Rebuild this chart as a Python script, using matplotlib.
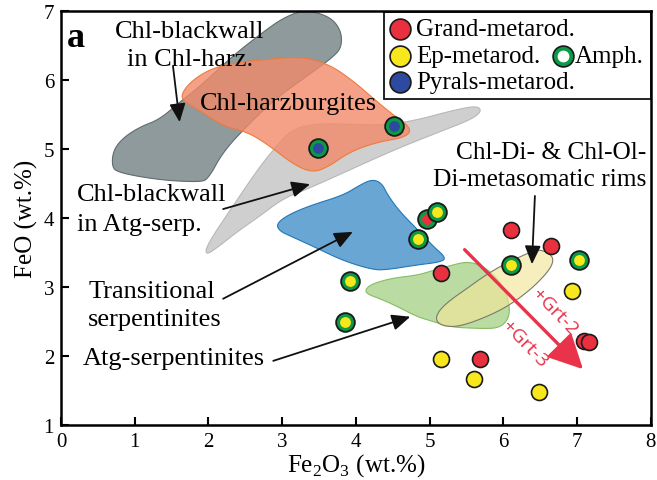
import numpy as np
import matplotlib
matplotlib.use("Agg")
import matplotlib.pyplot as plt
from matplotlib.patches import Polygon, Rectangle, FancyArrowPatch

plt.rcParams['font.family'] = ['Liberation Serif', 'DejaVu Serif']
plt.rcParams['mathtext.fontset'] = 'custom'
plt.rcParams['mathtext.rm'] = 'Liberation Serif'

# ---------------- data ----------------
grand_x = [6.10, 6.65, 5.16, 7.10, 7.17, 5.69]
grand_y = [3.82, 3.59, 3.21, 2.22, 2.21, 1.96]
grand_amph_x = [4.96]
grand_amph_y = [3.99]
ep_x = [6.94, 5.16, 5.61, 6.49]
ep_y = [2.94, 1.96, 1.67, 1.48]
ep_amph_x = [6.11, 7.03, 5.10, 4.85, 3.92, 3.86]
ep_amph_y = [3.32, 3.39, 4.09, 3.69, 3.09, 2.49]
pyr_amph_x = [3.49, 4.52]
pyr_amph_y = [5.02, 5.33]

# field outlines (Fe2O3, FeO)
blackwall_harz_x = [0.69, 0.71, 0.84, 1.07, 1.34, 1.61, 1.89, 2.33, 2.70, 3.01, 3.31, 3.65, 3.80, 3.81,
                    3.69, 3.34, 2.90, 2.52, 2.20, 2.00, 1.89, 1.34, 0.76]
blackwall_harz_y = [4.76, 4.98, 5.16, 5.32, 5.43, 5.68, 5.91, 6.35, 6.66, 6.90, 7.02, 6.92, 6.72, 6.48,
                    6.33, 6.06, 5.72, 5.33, 4.96, 4.57, 4.52, 4.55, 4.66]
harz_x = [1.61, 1.71, 1.98, 2.33, 2.80, 3.28, 3.65, 3.96, 4.23, 4.50, 4.76, 4.68, 4.29, 3.92, 3.61,
          3.40, 3.15, 2.80, 2.52, 2.20, 1.85]
harz_y = [5.72, 5.93, 6.14, 6.25, 6.30, 6.34, 6.22, 5.99, 5.74, 5.50, 5.30, 5.17, 5.10, 4.96, 4.73,
          4.66, 4.78, 5.07, 5.25, 5.33, 5.58]
blackwall_atg_x = [1.96, 1.98, 2.33, 2.70, 2.93, 3.11, 3.34, 3.69, 4.37, 4.83, 5.28, 5.64, 5.71, 5.57,
                   5.14, 4.64, 4.15, 3.74, 3.34, 3.01, 2.70, 2.39, 2.12]
blackwall_atg_y = [3.46, 3.61, 4.17, 4.75, 5.05, 5.26, 5.35, 5.37, 5.34, 5.42, 5.55, 5.63, 5.55, 5.43,
                   5.25, 5.04, 4.81, 4.61, 4.42, 4.28, 4.03, 3.80, 3.57]
trans_x = [2.92, 3.07, 3.38, 3.83, 4.06, 4.22, 4.35, 4.44, 4.60, 4.83, 5.05, 5.23, 5.14, 4.83, 4.42,
           4.23, 3.83, 3.42, 3.11, 2.97]
trans_y = [3.91, 4.04, 4.18, 4.33, 4.48, 4.56, 4.51, 4.32, 4.09, 3.84, 3.59, 3.42, 3.36, 3.32, 3.25,
           3.25, 3.38, 3.59, 3.74, 3.81]
atg_x = [4.13, 4.23, 4.50, 4.83, 5.05, 5.28, 5.51, 5.71, 5.88, 6.02, 6.09, 6.07, 5.94, 5.64, 5.28,
         5.05, 4.83, 4.56, 4.33, 4.15]
atg_y = [2.97, 3.05, 3.13, 3.17, 3.24, 3.31, 3.37, 3.31, 3.17, 2.97, 2.72, 2.53, 2.40, 2.40, 2.42,
         2.50, 2.57, 2.72, 2.83, 2.90]
rims_x = [5.08, 5.13, 5.28, 5.51, 5.73, 5.96, 6.19, 6.40, 6.52, 6.66, 6.68, 6.60, 6.37, 6.05, 5.69,
          5.37, 5.16]
rims_y = [2.53, 2.66, 2.81, 2.98, 3.15, 3.30, 3.42, 3.52, 3.54, 3.46, 3.36, 3.21, 2.96, 2.71, 2.53,
          2.42, 2.44]

x_ticks = [0, 1, 2, 3, 4, 5, 6, 7, 8]
y_ticks = [1, 2, 3, 4, 5, 6, 7]


def chaikin(xs, ys, iters=4):
    P = np.column_stack([xs, ys]).astype(float)
    for _ in range(iters):
        Q = 0.75 * P + 0.25 * np.roll(P, -1, axis=0)
        R = 0.25 * P + 0.75 * np.roll(P, -1, axis=0)
        P = np.empty((2 * len(Q), 2))
        P[0::2] = Q
        P[1::2] = R
    return P


fig = plt.figure(figsize=(6.57, 4.81), dpi=100)
ax = fig.add_axes([0.0928, 0.1143, 0.8975, 0.8607])
ax.set_xlim(0, 8)
ax.set_ylim(1, 7)

fields = [
    (blackwall_atg_x, blackwall_atg_y, '#cfcfcf', '#b8b8b8', 1.0, 1),
    (blackwall_harz_x, blackwall_harz_y, '#8e9a9c', '#5f6b6d', 1.0, 2),
    (harz_x, harz_y, '#f28a69', '#f07a3a', 0.8, 3),
    (trans_x, trans_y, '#4f97cc', '#1f78b8', 0.85, 3),
    (atg_x, atg_y, '#a9d28a', '#86bd62', 0.8, 3),
    (rims_x, rims_y, '#f3e69a', '#7a7a6a', 0.65, 4),
]
for fx, fy, fc, ec, al, z in fields:
    pts = chaikin(fx, fy)
    ax.add_patch(Polygon(pts, closed=True, facecolor=fc, edgecolor='none', alpha=al, zorder=z))
    ax.add_patch(Polygon(pts, closed=True, facecolor='none', edgecolor=ec, lw=0.8, zorder=z))

red = '#e8303f'
yel = '#f8e71c'
grn = '#0b9a46'
blu = '#2d4aa0'

# simple markers
ax.plot(grand_x, grand_y, 'o', ms=11.5, mfc=red, mec='#1a1a1a', mew=1.2, ls='none', zorder=10)
ax.plot(ep_x, ep_y, 'o', ms=11.5, mfc=yel, mec='#1a1a1a', mew=1.2, ls='none', zorder=10)


def ring(xs, ys, inner, z):
    ax.plot(xs, ys, 'o', ms=13.5, mfc=grn, mec='#1a1a1a', mew=1.3, ls='none', zorder=z)
    ax.plot(xs, ys, 'o', ms=7.8, mfc=inner, mec='none', ls='none', zorder=z + 0.1)


ring(grand_amph_x, grand_amph_y, red, 11)
ring(ep_amph_x, ep_amph_y, yel, 12)
ring(pyr_amph_x, pyr_amph_y, blu, 12)

# red garnet arrow
gc = '#e8334a'
ax.add_patch(FancyArrowPatch((5.45, 3.57), (7.11, 1.78),
                             arrowstyle='-|>,head_length=1.5,head_width=0.75',
                             mutation_scale=14, color=gc, lw=2.4, zorder=9))
ax.text(6.70, 2.65, '+Grt-2', rotation=-46, color=gc, fontsize=14,
        family=['Open Sans', 'DejaVu Sans'], ha='center', va='center', rotation_mode='anchor', zorder=9)
ax.text(6.29, 2.18, '+Grt-3', rotation=-46, color=gc, fontsize=14,
        family=['Open Sans', 'DejaVu Sans'], ha='center', va='center', rotation_mode='anchor', zorder=9)

# labels and black arrows
fs = 19
ax.text(1.75, 6.51, 'Chl-blackwall\nin Chl-harz.', ha='center', va='center', fontsize=fs,
        linespacing=1.38, zorder=8)
ax.text(3.08, 5.67, 'Chl-harzburgites', ha='center', va='center', fontsize=fs, zorder=8)
ax.text(0.22, 4.13, 'Chl-blackwall\nin Atg-serp.', ha='left', va='center', fontsize=fs,
        linespacing=1.45, zorder=8)
ax.text(0.37, 2.74, 'Transitional\nserpentinites', ha='left', va='center', fontsize=fs,
        linespacing=1.38, zorder=8)
ax.text(0.30, 1.97, 'Atg-serpentinites', ha='left', va='center', fontsize=fs, zorder=8)
ax.text(7.94, 4.76, 'Chl-Di- & Chl-Ol-\nDi-metasomatic rims', ha='right', va='center', fontsize=18.3,
        linespacing=1.28, zorder=8)
ax.text(0.08, 6.62, 'a', ha='left', va='center', fontsize=26, fontweight='bold', zorder=8)

arrows = [((1.52, 6.20), (1.61, 5.39)),
          ((2.20, 4.13), (3.38, 4.49)),
          ((2.20, 2.83), (3.96, 3.80)),
          ((2.88, 1.93), (4.74, 2.57)),
          ((6.43, 4.32), (6.39, 3.33))]
for (x0, y0), (x1, y1) in arrows:
    ax.add_patch(FancyArrowPatch((x0, y0), (x1, y1), arrowstyle='-|>,head_length=0.8,head_width=0.35',
                                 mutation_scale=14, color='#111111', lw=1.3, zorder=9,
                                 shrinkA=0, shrinkB=0))

# legend box
ax.add_patch(Rectangle((0.548, 0.787), 0.452, 0.211, transform=ax.transAxes, facecolor='white',
                       edgecolor='#111111', lw=1.3, zorder=20))
for col, yy in zip([red, yel, blu], [0.957, 0.891, 0.829]):
    ax.plot([0.575], [yy], 'o', transform=ax.transAxes, ms=15, mfc=col, mec='#1a1a1a', mew=1.2,
            zorder=21, clip_on=False)
ax.plot([0.851], [0.891], 'o', transform=ax.transAxes, ms=15, mfc=grn, mec='#1a1a1a', mew=1.2, zorder=21,
        clip_on=False)
ax.plot([0.851], [0.891], 'o', transform=ax.transAxes, ms=8.5, mfc='white', mec='none', zorder=22,
        clip_on=False)
legend_labels = ['Grand-metarod.', 'Ep-metarod.', 'Pyrals-metarod.']
for lab, yy in zip(legend_labels, [0.957, 0.891, 0.829]):
    ax.text(0.602, yy, lab, transform=ax.transAxes, ha='left', va='center', fontsize=18, zorder=22)
ax.text(0.872, 0.891, 'Amph.', transform=ax.transAxes, ha='left', va='center', fontsize=18, zorder=22)

# axes styling
ax.set_xticks(x_ticks)
ax.set_yticks(y_ticks)
ax.tick_params(direction='in', length=6, width=1.5, labelsize=15, pad=5)
for s in ax.spines.values():
    s.set_linewidth(1.8)
    s.set_zorder(25)
ax.set_xlabel(r'Fe$_2$O$_3$ (wt.%)', fontsize=18, labelpad=0)
ax.set_ylabel('FeO (wt.%)', fontsize=18, labelpad=4)

fig.savefig('out.png', dpi=100)
